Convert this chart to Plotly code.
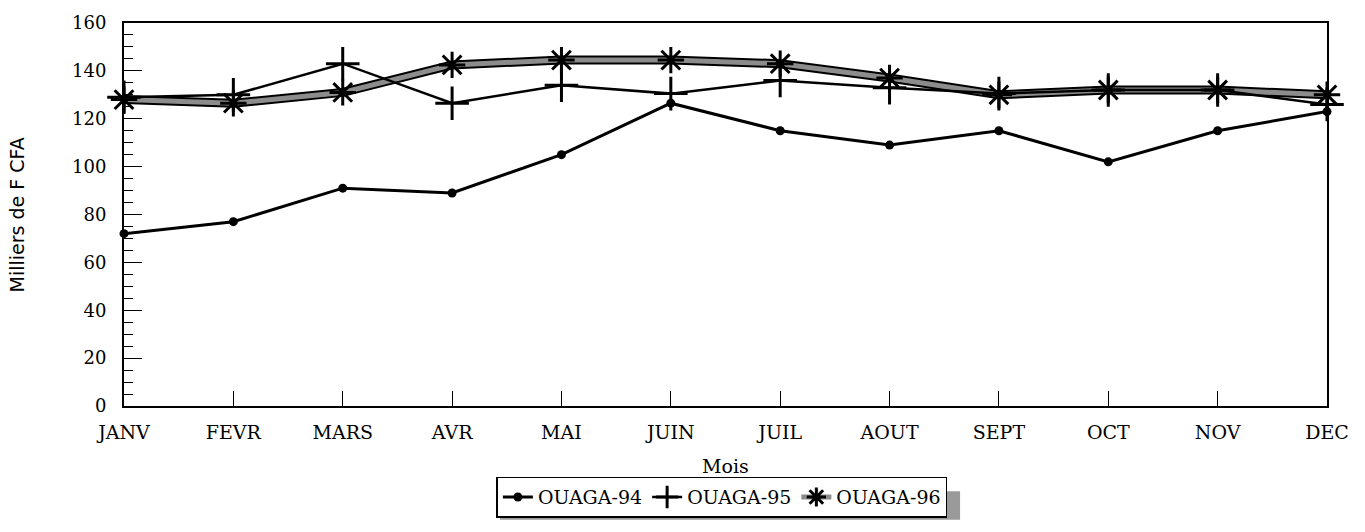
import plotly.graph_objects as go

# Monthly values (thousands of F CFA)
months = ["JANV", "FEVR", "MARS", "AVR", "MAI", "JUIN", "JUIL", "AOUT", "SEPT", "OCT", "NOV", "DEC"]
ouaga_94 = [72, 77, 91, 89, 105, 126.5, 115, 109, 115, 102, 115, 123]
ouaga_95 = [129, 130, 143, 126.5, 134, 130.5, 136, 133, 130.5, 132, 132, 126]
ouaga_96 = [128, 126.5, 131, 142.5, 144.5, 144.5, 143, 137, 130, 132, 132, 130]

serif = "DejaVu Serif, Liberation Serif, serif"
sans = "DejaVu Sans, Liberation Sans, sans-serif"

fig = go.Figure()

# OUAGA-96: broad grey band with dark edges
fig.add_trace(go.Scatter(
    x=months, y=ouaga_96, mode="lines", legendgroup="96", showlegend=False,
    line=dict(color="black", width=9), hoverinfo="skip", cliponaxis=False,
))
fig.add_trace(go.Scatter(
    x=months, y=ouaga_96, name="OUAGA-96", mode="lines+markers", legendgroup="96",
    line=dict(color="#8c8c8c", width=5),
    marker=dict(symbol="asterisk-open", size=22, color="black",
                line=dict(color="black", width=3)),
    cliponaxis=False,
))
fig.add_trace(go.Scatter(
    x=months, y=ouaga_95, name="OUAGA-95", mode="lines+markers",
    line=dict(color="black", width=2.5),
    marker=dict(symbol="cross-thin-open", size=24, color="black",
                line=dict(color="black", width=3)),
    cliponaxis=False,
))
fig.add_trace(go.Scatter(
    x=months, y=ouaga_94, name="OUAGA-94", mode="lines+markers",
    line=dict(color="black", width=3),
    marker=dict(symbol="circle", size=9, color="black"),
    cliponaxis=False,
))

fig.update_layout(
    width=1365, height=532,
    margin=dict(l=124, r=38, t=15, b=126),
    paper_bgcolor="white", plot_bgcolor="white",
    showlegend=True,
    legend=dict(
        orientation="h", x=0.497, xanchor="center", y=-0.238, yanchor="middle",
        traceorder="reversed",
        bgcolor="white", bordercolor="black", borderwidth=1.5,
        font=dict(family=serif, size=19, color="black"),
        itemwidth=30,
    ),
    xaxis=dict(
        type="category", range=[0, 11],
        showline=True, linecolor="black", linewidth=1.5, mirror=True,
        ticks="inside", ticklen=15, tickcolor="black", tickwidth=1,
        showgrid=False, zeroline=False,
        ticklabelstandoff=8,
        tickfont=dict(family=serif, size=19, color="black"),
    ),
    yaxis=dict(
        range=[0, 160], tickvals=[0, 20, 40, 60, 80, 100, 120, 140, 160],
        showline=True, linecolor="black", linewidth=2, mirror=True,
        ticks="inside", ticklen=18, tickcolor="black", tickwidth=1,
        minor=dict(ticks="inside", ticklen=9, dtick=5, tickcolor="black", showgrid=False),
        showgrid=False, zeroline=False,
        ticklabelstandoff=12,
        tickfont=dict(family=serif, size=18, color="black"),
    ),
    annotations=[
        dict(text="Mois", xref="paper", yref="paper", x=0.5, y=-0.156,
             xanchor="center", yanchor="middle", showarrow=False,
             font=dict(family=serif, size=19, color="black")),
        dict(text="Milliers de F CFA", xref="paper", yref="paper", x=-0.089, y=0.5,
             xanchor="center", yanchor="middle", textangle=-90, showarrow=False,
             font=dict(family=sans, size=19, color="black")),
    ],
    shapes=[
        # drop shadow behind the legend box
        dict(type="rect", xref="paper", yref="paper",
             x0=0.3126, x1=0.695, y0=-0.2967, y1=-0.2225,
             fillcolor="#9a9a9a", line=dict(width=0), layer="above"),
    ],
)

fig.write_html("out.html")
